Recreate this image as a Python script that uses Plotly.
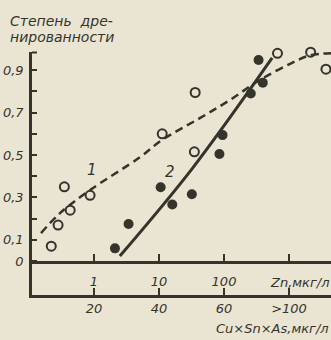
import plotly.graph_objects as go

# ---- data ----
# Series 1 (open circles): Zn, мкг/л vs степень дренированности
open_zn = [0.22, 0.28, 0.35, 0.43, 0.87, 11.2, 35, 36, 665, 2150, 3700]
open_deg = [0.07, 0.17, 0.35, 0.24, 0.31, 0.60, 0.515, 0.795, 0.98, 0.985, 0.905]

# Series 2 (filled circles)
fill_zn = [2.1, 3.4, 10.6, 16, 32, 85, 95, 258, 340, 395]
fill_deg = [0.06, 0.175, 0.348, 0.267, 0.315, 0.505, 0.594, 0.79, 0.948, 0.841]

# Curve 1 (dashed)
curve1_zn = [0.153, 0.30, 0.87, 5.1, 11, 43, 124, 355, 1040, 2100, 4450]
curve1_deg = [0.132, 0.226, 0.335, 0.49, 0.57, 0.675, 0.76, 0.854, 0.93, 0.97, 0.98]

# Curve 2 (solid)
curve2_zn = [2.5, 32, 550]
curve2_deg = [0.024, 0.434, 0.958]

# Axis ticks
zn_ticks = [1, 10, 100, 1000]
zn_labels = ["1", "10", "100", ""]
cu_labels = ["20", "40", "60", ">100"]
y_ticks = [0, 0.1, 0.2, 0.3, 0.4, 0.5, 0.6, 0.7, 0.8, 0.9]
y_labels = ["0", "0,1", "", "0,3", "", "0,5", "", "0,7", "", "0,9"]

INK = "rgb(52,52,44)"
BG = "rgb(234,229,211)"
FONT = "DejaVu Sans"

W, H = 331, 340
ML, MR, MT, MB = 32, 0, 52, 45
XR = [-0.954, 3.646]
YR = [-0.16, 0.986]

fig = go.Figure()

fig.add_trace(go.Scatter(
    x=curve1_zn, y=curve1_deg, mode="lines", xaxis="x2",
    line=dict(color=INK, width=2.5, dash="8px,5px", shape="spline"),
    hoverinfo="skip", showlegend=False))
fig.add_trace(go.Scatter(
    x=curve2_zn, y=curve2_deg, mode="lines",
    line=dict(color=INK, width=3, shape="spline"),
    hoverinfo="skip", showlegend=False))
fig.add_trace(go.Scatter(
    x=open_zn, y=open_deg, mode="markers", cliponaxis=False,
    marker=dict(symbol="circle", size=9, color=BG, line=dict(color=INK, width=2)),
    showlegend=False))
fig.add_trace(go.Scatter(
    x=fill_zn, y=fill_deg, mode="markers", cliponaxis=False,
    marker=dict(symbol="circle", size=10, color=INK, line=dict(width=0)),
    showlegend=False))

tickfont = dict(family=FONT, size=13, color=INK, style="italic")

pw = W - ML - MR
ph = H - MT - MB

fig.update_layout(
    width=W, height=H,
    margin=dict(l=ML, r=MR, t=MT, b=MB),
    paper_bgcolor=BG, plot_bgcolor=BG,
    xaxis=dict(type="log", range=XR, showgrid=False, zeroline=False,
               showline=True, linecolor=INK, linewidth=2.5,
               ticks="inside", ticklen=7, tickwidth=1.5, tickcolor=INK,
               tickvals=zn_ticks, ticktext=cu_labels, tickfont=tickfont,
               ticklabelstandoff=0),
    xaxis2=dict(type="log", range=XR, overlaying="x", anchor="free",
                position=(295 - 262) / ph,
                showgrid=False, zeroline=False,
                showline=True, linecolor=INK, linewidth=2.5,
                ticks="inside", ticklen=7, tickwidth=1.5, tickcolor=INK,
                tickvals=zn_ticks, ticktext=zn_labels, tickfont=tickfont,
                side="bottom", ticklabelstandoff=7),
    yaxis=dict(range=YR, showgrid=False, zeroline=False,
               showline=True, linecolor=INK, linewidth=2.5,
               ticks="inside", ticklen=5, tickwidth=1.5, tickcolor=INK,
               tickvals=y_ticks, ticktext=y_labels, tickfont=tickfont,
               ticklabelstandoff=3),
)


def px(x):
    return (x - ML) / pw


def py(y):
    return (H - MB - y) / ph


fig.add_shape(type="line", xref="paper", yref="paper",
              x0=0, x1=px(37), y0=py(52.5), y1=py(52.5),
              line=dict(color=INK, width=2))

ann = dict(font=dict(family=FONT, size=13, color=INK, style="italic"),
           showarrow=False, xref="paper", yref="paper")
tann = dict(ann)
tann["font"] = dict(family=FONT, size=14, color=INK, style="italic")
fig.add_annotation(text="Степень\u00a0\u00a0дре-", x=px(8), y=py(21),
                   xanchor="left", yanchor="middle", **tann)
fig.add_annotation(text="нированности", x=px(8), y=py(37),
                   xanchor="left", yanchor="middle", **tann)
fig.add_annotation(text="Zn,мкг/л", x=px(331), y=py(282),
                   xanchor="right", yanchor="middle", **ann)
fig.add_annotation(text="Cu×Sn×As,мкг/л", x=px(331), y=py(328),
                   xanchor="right", yanchor="middle", **ann)
lab = dict(ann)
lab["font"] = dict(family=FONT, size=15, color=INK, style="italic")
fig.add_annotation(text="1", x=px(92), y=py(170), xanchor="center", yanchor="middle", **lab)
fig.add_annotation(text="2", x=px(170), y=py(172), xanchor="center", yanchor="middle", **lab)

fig.write_html(
    "out.html",
    config={"displayModeBar": False},
    post_script="document.body.style.margin='0';document.body.style.background='%s';" % BG,
)
